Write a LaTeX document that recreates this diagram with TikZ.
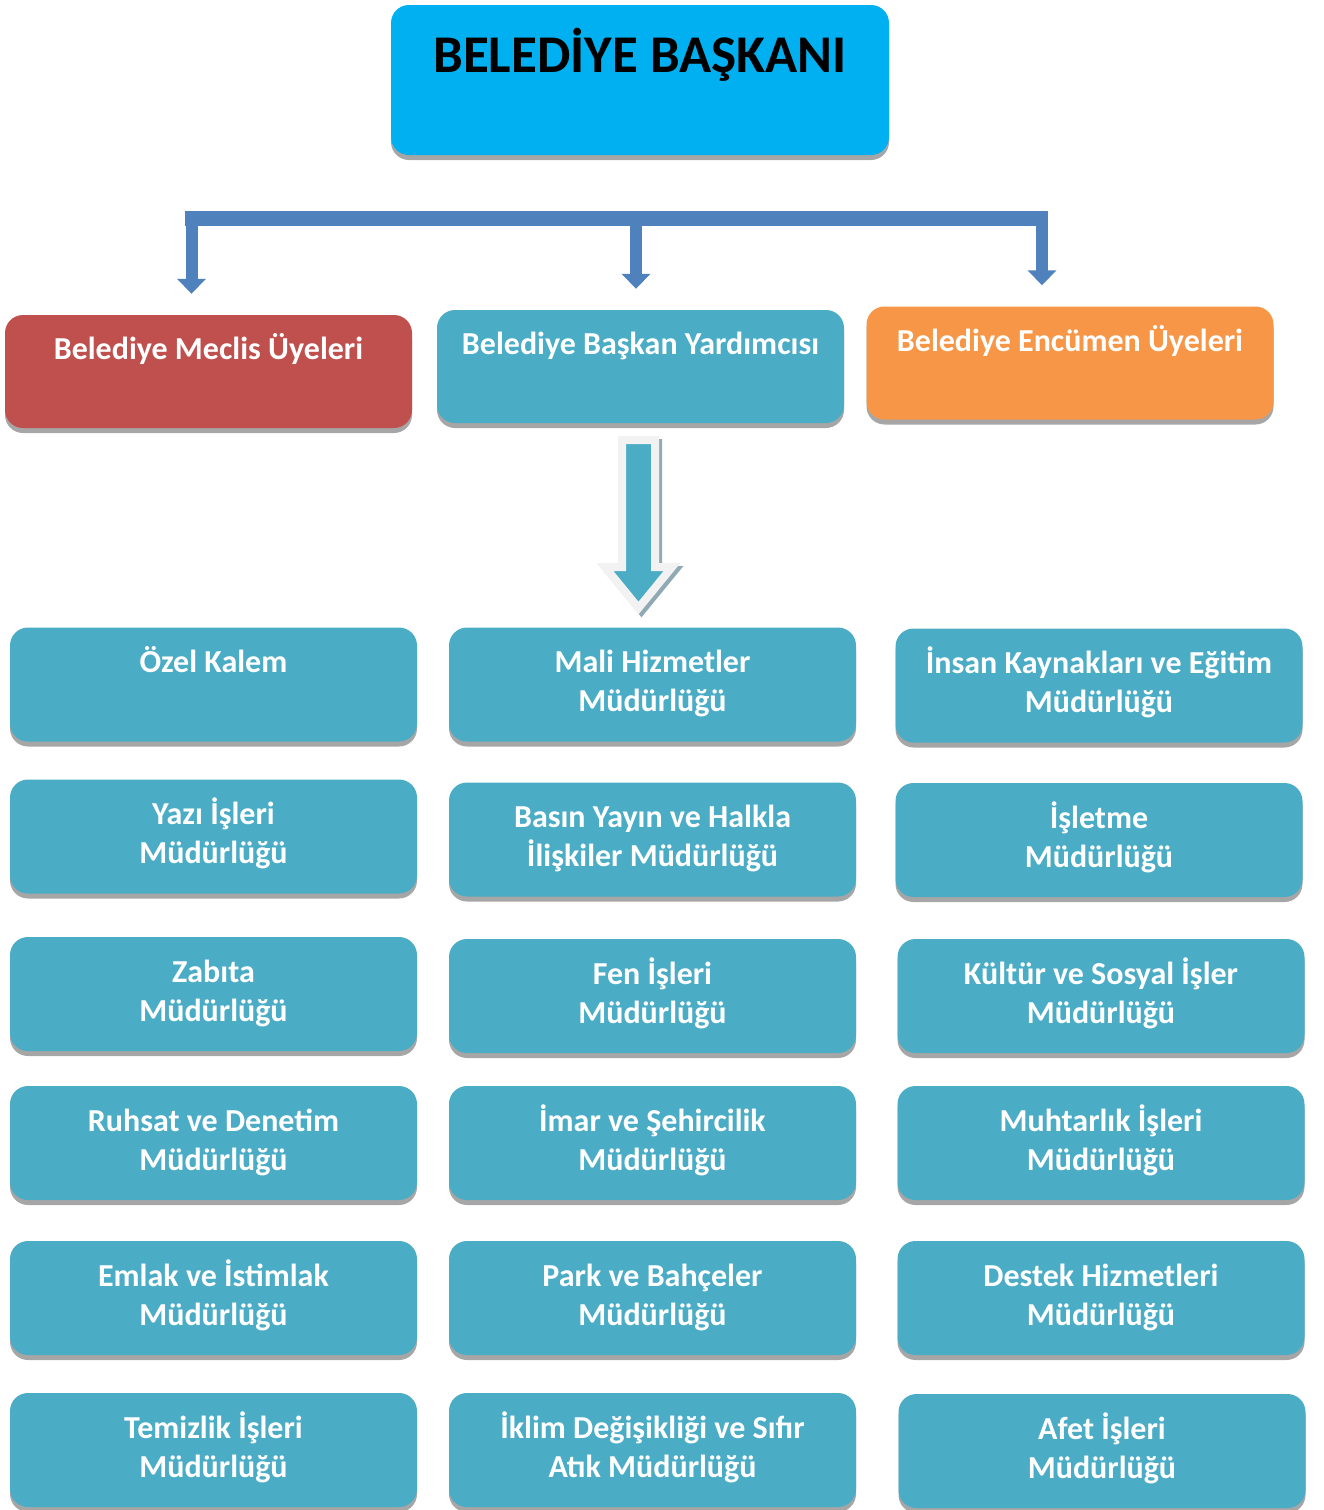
\documentclass[tikz,border=0pt]{standalone}
\usepackage{fontspec}
\setmainfont{Carlito}
\usetikzlibrary{shadows,arrows.meta,calc}
\definecolor{chiefblue}{HTML}{00B0F0}
\definecolor{councilred}{HTML}{C0504D}
\definecolor{unitteal}{HTML}{4BACC6}
\definecolor{boardorange}{HTML}{F79646}
\definecolor{linkblue}{HTML}{4F81BD}
\definecolor{rimgray}{HTML}{F2F2F2}
\definecolor{shadegray}{HTML}{A6A6A6}
\definecolor{arrowshade}{HTML}{8FAAB4}
\tikzset{
  panel/.style={rounded corners=18pt, minimum width=407pt, minimum height=114pt, text width=400pt, align=flush center, inner sep=0pt, text=white,
    drop shadow={shadow xshift=0pt, shadow yshift=-5pt, opacity=1, fill=shadegray}},
  unit/.style={panel, fill=unitteal, text height=22pt, text depth=46pt, font=\fontsize{32}{39}\selectfont\bfseries},
  board/.style={panel, fill=#1, minimum height=113pt, text height=22pt, text depth=46pt, font=\fontsize{32}{39}\selectfont\bfseries},
  chief/.style={panel, fill=chiefblue, minimum width=498pt, minimum height=150pt, text width=480pt, text=black, font=\fontsize{53}{60}\selectfont\bfseries},
  branch/.style={draw=linkblue, line width=12pt, -{Triangle[width=28pt,length=15pt]}, shorten >=21pt},
  bigarrow/.style={draw=rimgray, line width=8pt, fill=unitteal, line join=miter},
  bigarrowshade/.style={draw=arrowshade, line width=8pt, fill=arrowshade, line join=miter}
}
\begin{document}
\begin{tikzpicture}[x=1pt,y=-1pt]
\useasboundingbox (0,0) rectangle (1323,1510);
\pgfmathsetmacro{\colA}{213.5}
\pgfmathsetmacro{\colB}{652.5}
\node[chief] (baskan) at (640,80) {BELEDİYE BAŞKANI\\\mbox{}};
\node[board=councilred] (meclis) at (208.5,371.5) {Belediye Meclis Üyeleri\\\mbox{}};
\node[board=unitteal] (yardimci) at (640.5,366.5) {Belediye Başkan Yardımcısı\\\mbox{}};
\node[board=boardorange] (encumen) at (1070,363) {Belediye Encümen Üyeleri\\\mbox{}};
\coordinate (barL) at (185,218.5);
\coordinate (barR) at (1048,218.5);
\coordinate (jL) at (191.5,218.5);
\coordinate (jM) at (636,218.5);
\coordinate (jR) at (1042,218.5);
\draw[linkblue, line width=15pt] (barL) -- (barR);
\draw[branch] (jL) -- (jL |- meclis.north);
\draw[branch] (jM) -- (jM |- yardimci.north);
\draw[branch] (jR) -- (jR |- encumen.north);
\draw[bigarrowshade, xshift=3pt, yshift=-3pt] (622,440) -- (655,440) -- (655,567) -- (672,567) -- (638.5,608) -- (605,567) -- (622,567) -- cycle;
\draw[bigarrow] (622,440) -- (655,440) -- (655,567) -- (672,567) -- (638.5,608) -- (605,567) -- (622,567) -- cycle;
\node[unit] (ozel) at (\colA,684.5) {Özel Kalem\\\mbox{}};
\node[unit] (yazi) at (\colA,836.5) {Yazı İşleri\\Müdürlüğü};
\node[unit] (zabita) at (\colA,994) {Zabıta\\Müdürlüğü};
\node[unit] (ruhsat) at (\colA,1143) {Ruhsat ve Denetim\\Müdürlüğü};
\node[unit] (emlak) at (\colA,1298) {Emlak ve İstimlak\\Müdürlüğü};
\node[unit] (temizlik) at (\colA,1450) {Temizlik İşleri\\Müdürlüğü};
\node[unit] (mali) at (\colB,684.5) {Mali Hizmetler\\Müdürlüğü};
\node[unit] (basin) at (\colB,839.5) {Basın Yayın ve Halkla\\İlişkiler Müdürlüğü};
\node[unit] (fen) at (\colB,996) {Fen İşleri\\Müdürlüğü};
\node[unit] (imar) at (\colB,1143) {İmar ve Şehircilik\\Müdürlüğü};
\node[unit] (park) at (\colB,1298) {Park ve Bahçeler\\Müdürlüğü};
\node[unit] (iklim) at (\colB,1450) {İklim Değişikliği ve Sıfır\\Atık Müdürlüğü};
\node[unit] (insan) at (1099,685.5) {İnsan Kaynakları ve Eğitim\\Müdürlüğü};
\node[unit] (isletme) at (1099,840) {İşletme\\Müdürlüğü};
\node[unit] (kultur) at (1101,996) {Kültür ve Sosyal İşler\\Müdürlüğü};
\node[unit] (muhtarlik) at (1101,1143) {Muhtarlık İşleri\\Müdürlüğü};
\node[unit] (destek) at (1101,1298) {Destek Hizmetleri\\Müdürlüğü};
\node[unit] (afet) at (1102,1451) {Afet İşleri\\Müdürlüğü};
\end{tikzpicture}
\end{document}
